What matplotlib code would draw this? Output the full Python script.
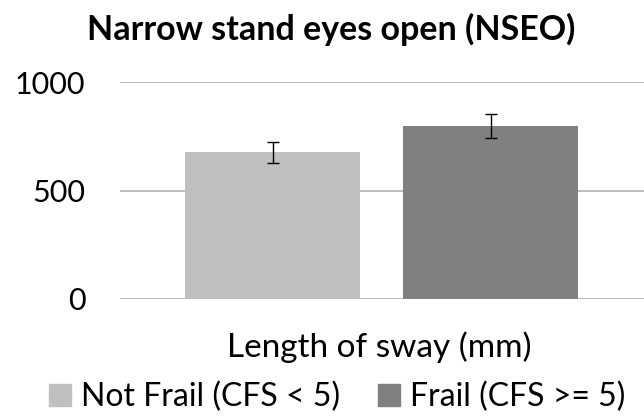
import matplotlib.pyplot as plt
from matplotlib.patches import Patch

# data
groups = ["Not Frail (CFS < 5)", "Frail (CFS >= 5)"]
means = [676, 797]
errors = [48, 56]
colors = ["#c0c0c0", "#808080"]
yticks = [0, 500, 1000]

plt.rcParams["font.family"] = ["Lato", "DejaVu Sans"]

fig = plt.figure(figsize=(6.44, 4.18), dpi=100)
ax = fig.add_axes([120 / 644, 1 - 299 / 418, 1 - 120 / 644, (299 - 82) / 418])

for i, (m, e, c) in enumerate(zip(means, errors, colors)):
    ax.bar(i, m, width=0.8, color=c, zorder=2)
    ax.errorbar(i, m, yerr=e, color="black", capsize=4, elinewidth=1,
                capthick=1, zorder=3)

ax.set_ylim(0, 1000)
ax.set_xlim(-0.70, 1.704)
ax.set_yticks(yticks)
ax.set_yticklabels([str(t) for t in yticks], fontsize=22)
ax.set_xticks([])
ax.tick_params(axis="y", length=0, pad=25)
ax.grid(axis="y", color="#b0b0b0", linewidth=1.2, zorder=1)
for s in ax.spines.values():
    s.set_visible(False)

fig.text(331 / 644, 1 - 40 / 418, "Narrow stand eyes open (NSEO)",
         ha="center", va="baseline", fontsize=24.5, fontweight="bold")
fig.text(379 / 644, 1 - 357 / 418, "Length of sway (mm)",
         ha="center", va="baseline", fontsize=24)

handles = [Patch(color=c) for c in colors]
fig.legend(handles, groups, loc="center", bbox_to_anchor=(337 / 644, 1 - 397 / 418),
           ncol=2, frameon=False, fontsize=23, handlelength=0.7, handleheight=0.7,
           handletextpad=0.3, columnspacing=1.2, borderpad=0, borderaxespad=0)

fig.savefig("out.png", dpi=100)
